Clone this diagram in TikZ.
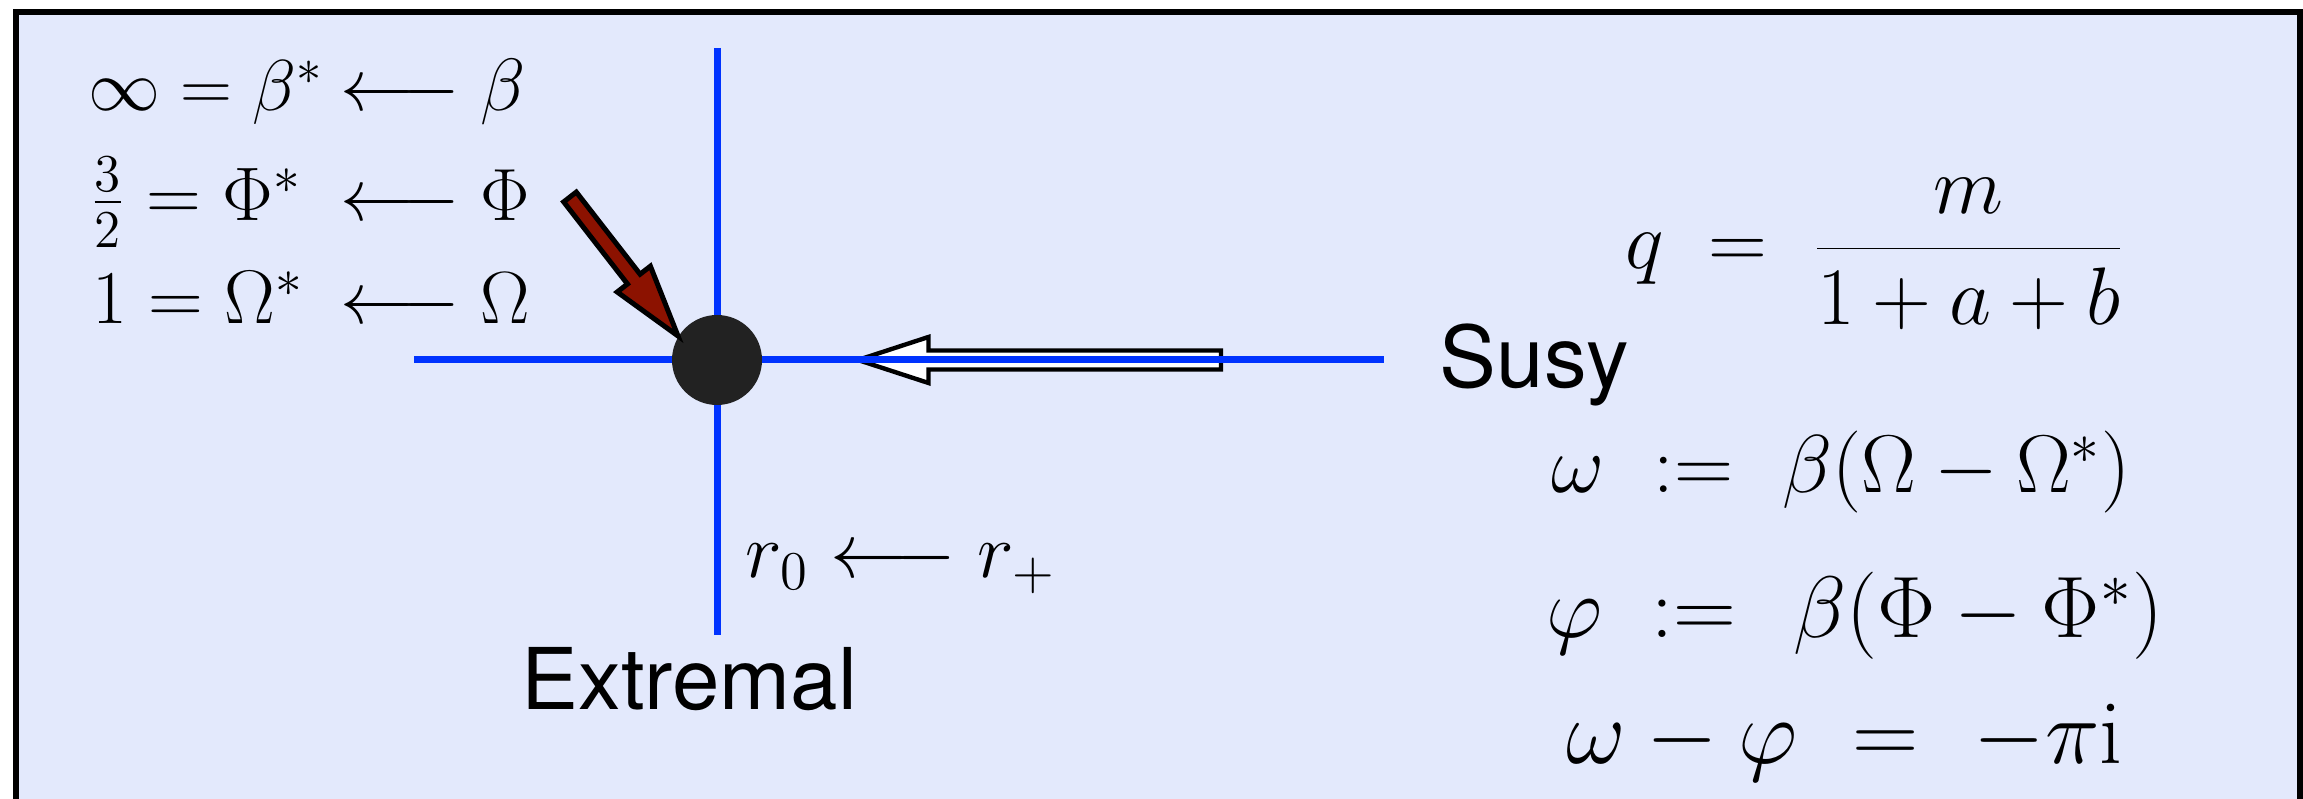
\RequirePackage{fix-cm}
\documentclass[tikz,border=0pt]{standalone}
\usepackage{fontspec}
\newfontfamily\sansf{TeX Gyre Heros}
\definecolor{bg}{RGB}{227,233,252}
\definecolor{axisblue}{RGB}{0,51,255}
\definecolor{arrred}{RGB}{140,18,0}
\definecolor{dotgray}{RGB}{34,34,34}
\begin{document}
\begin{tikzpicture}[x=0.25pt,y=-0.25pt,
  mathL/.style={inner sep=0,anchor=base west,font=\fontsize{18}{20}\selectfont},
  mathM/.style={inner sep=0,anchor=base west,font=\fontsize{19}{21}\selectfont},
  mathA/.style={inner sep=0,anchor=base west,font=\fontsize{18.5}{21}\selectfont},
  mathR/.style={inner sep=0,anchor=base west,font=\fontsize{19.5}{22}\selectfont},
  sanslabel/.style={inner sep=0,anchor=base west,font=\sansf\fontsize{21.3}{24}\selectfont},
  axisline/.style={draw=axisblue,line width=1.75pt},
  hollowarrow/.style={draw=black,fill=white,line width=1.1pt},
  redarrow/.style={draw=black,fill=arrred,line width=1.25pt},
  extpoint/.style={circle,fill=dotgray,minimum size=22.5pt,inner sep=0}]
\useasboundingbox (0,0) rectangle (2303,799);
\begin{scope}
  \clip (0,0) rectangle (2303,799);
  \fill[white] (0,0) rectangle (2303,799);
  \draw[line width=1.5pt,fill=bg] (16,12) rectangle (2300,840);
\end{scope}

% hollow arrow (under the axis)
\draw[hollowarrow] (858,360) -- (928.5,337) -- (928.5,350.5) -- (1221,350.5)
  -- (1221,369.5) -- (928.5,369.5) -- (928.5,383) -- cycle;

% axes
\coordinate (hw) at (414,360);
\coordinate (he) at (1384,360);
\coordinate (vn) at (717,48);
\coordinate (vs) at (717,635);
\draw[axisline] (hw) -- (he);
\draw[axisline] (vn) -- (vs);

% extremal point
\node[extpoint] (ext) at (717,360) {};

% red arrow
\draw[redarrow] (576.3,192.1) -- (640.1,274.2) -- (650.4,266.2) -- (678,336)
  -- (617.2,292) -- (627.5,284) -- (563.7,201.9) -- cycle;

% left block, aligned on the arrows
\node[mathL] (l1a) at (88,111) {$\infty = \beta^*$};
\node[mathA] (l1b) at (340,111) {$\longleftarrow \beta$};
\node[mathM] (l2a) at (89,221) {$\frac{3}{2} = \Phi^*$};
\node[mathA] (l2b) at (340,221) {$\longleftarrow \Phi$};
\node[mathM] (l3a) at (92,324) {$1 = \Omega^*$};
\node[mathA] (l3b) at (340,324) {$\longleftarrow \Omega$};

% r label
\node[mathR] (rl) at (745,578) {$r_0 \longleftarrow r_+$};

% labels
\node[sanslabel] (susy) at (1439,388) {Susy};
\node[sanslabel] (extr) at (521,710) {Extremal};

% right equations
\node[inner sep=0,anchor=base west,font=\fontsize{20.4}{23}\selectfont] (qeq) at (1625,269)
  {$\displaystyle q\hspace{0.27em}=\hspace{0.27em}\frac{m}{1+a+b}$};
\node[inner sep=0,anchor=base west,font=\fontsize{20.5}{23}\selectfont] (weq) at (1551,493)
  {$\omega\hspace{0.32em}:=\hspace{0.32em}\beta(\Omega-\Omega^*)$};
\node[inner sep=0,anchor=base west,font=\fontsize{21.8}{24}\selectfont] (peq) at (1546,638)
  {$\varphi\hspace{0.28em}:=\hspace{0.38em}\beta(\Phi-\Phi^*)$};
\node[inner sep=0,anchor=base west,font=\fontsize{23}{26}\selectfont] (deq) at (1566,764)
  {$\omega-\varphi\hspace{0.32em}=\hspace{0.32em}-\pi\mathrm{i}$};
\end{tikzpicture}
\end{document}
